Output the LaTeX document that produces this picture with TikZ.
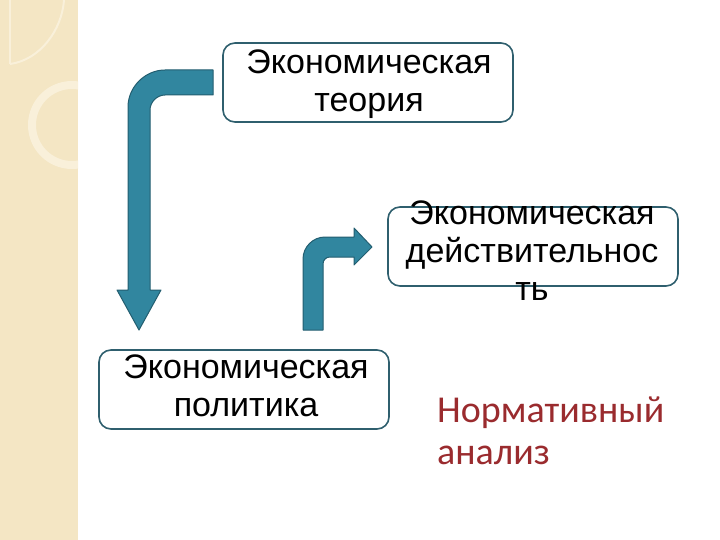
\documentclass[tikz,border=0pt]{standalone}
\usepackage{fontspec}
\setmainfont{Liberation Sans}
\newfontfamily\calib{Carlito}
\begin{document}
\begin{tikzpicture}[x=1pt,y=-1pt,
  box/.style={draw=boxc,line width=1.6pt,fill=white,rounded corners=12pt},
  txt/.style={align=center,font=\fontsize{34}{38}\selectfont,inner sep=0pt},
  arr/.style={fill=arrc,draw=arrd,line width=1pt,line join=round}]
\definecolor{boxc}{HTML}{2F5F6E}
\definecolor{arrc}{HTML}{31869F}
\definecolor{arrd}{HTML}{235E70}
\definecolor{strip}{HTML}{F4E6C4}
\definecolor{stripl}{HTML}{F9F0DA}
\definecolor{redt}{HTML}{9A2B2E}
\useasboundingbox (0,0) rectangle (720,540);
\fill[white] (0,0) rectangle (720,540);
% left strip
\fill[strip] (0,0) rectangle (78,540);
\begin{scope}
\clip (0,0) rectangle (78,540);
\draw[stripl,line width=8pt] (72,125) circle (40);
\draw[stripl,line width=2pt] (10,64) .. controls (40,60) and (62,30) .. (64,0);
\draw[stripl,line width=2pt] (10,64) -- (10,0);
\end{scope}
% boxes
\node[box,minimum width=290pt,minimum height=79pt] (theory) at (368,82.5) {};
\node[box,minimum width=290pt,minimum height=79pt] (real) at (533,246.5) {};
\node[box,minimum width=290pt,minimum height=79pt] (pol) at (244,389.5) {};
\node[txt] (ttheory) at (369,84) {Экономическая\\теория};
\node[txt] (treal) at (532,251) {Экономическая\\действительнос\\ть};
\node[txt] (tpol) at (246,386) {Экономическая\\политика};
\node[align=left,anchor=west,inner sep=0pt,text=redt,font=\calib\fontsize{38}{42}\selectfont] (norm) at (437,431) {Нормативный\\анализ};
% arrow 1
\draw[arr] (213,70) -- (165,70) .. controls (145,70) and (128,87) .. (128,107) -- (128,290) -- (117,290) -- (139,330) -- (161,290) -- (150,290) -- (150,110) .. controls (150,102) and (157,95) .. (165,95) -- (213,95) -- cycle;
% arrow 2
\draw[arr] (303,330) -- (303,259) .. controls (303,247) and (313,237) .. (325,237) -- (354,237) -- (354,228) -- (372,247) -- (354,265) -- (354,257) -- (330,257) .. controls (326,257) and (323,260) .. (323,264) -- (323,330) -- cycle;
\end{tikzpicture}
\end{document}
